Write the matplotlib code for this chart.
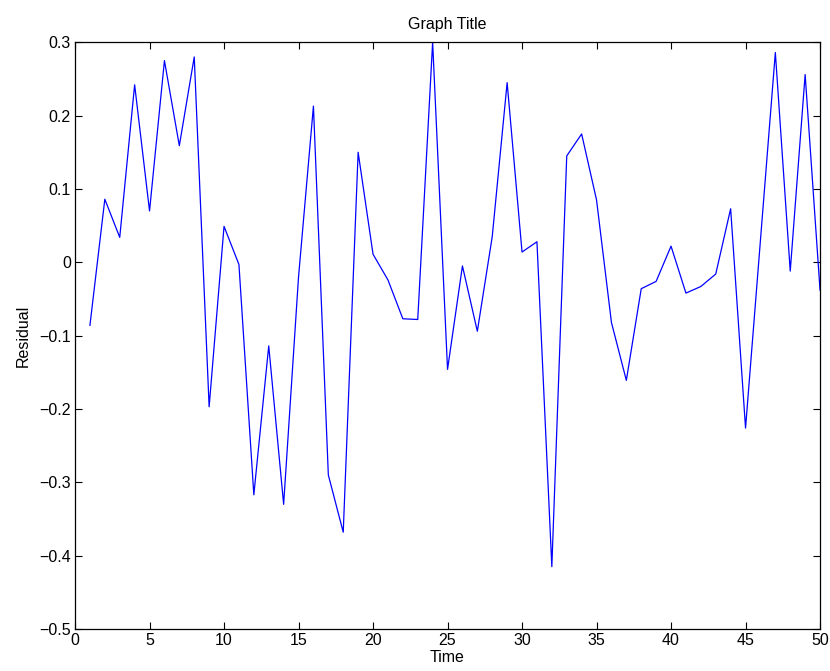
import matplotlib
matplotlib.use("Agg")
import matplotlib.pyplot as plt

plt.rcParams['font.family'] = ['Liberation Sans', 'DejaVu Sans']

time = list(range(1, 51))
residual = [
    -0.086, 0.086, 0.034, 0.242, 0.070, 0.275, 0.159, 0.280, -0.197, 0.049,
    -0.003, -0.317, -0.114, -0.330, -0.020, 0.213, -0.290, -0.368, 0.150, 0.011,
    -0.024, -0.077, -0.078, 0.300, -0.146, -0.005, -0.094, 0.035, 0.245, 0.014,
    0.028, -0.415, 0.145, 0.175, 0.085, -0.082, -0.161, -0.036, -0.026, 0.022,
    -0.042, -0.033, -0.016, 0.073, -0.226, 0.030, 0.286, -0.012, 0.256, -0.038,
]
xticks = [0, 5, 10, 15, 20, 25, 30, 35, 40, 45, 50]
yticks = [-0.5, -0.4, -0.3, -0.2, -0.1, 0, 0.1, 0.2, 0.3]
yticklabels = ['\u22120.5', '\u22120.4', '\u22120.3', '\u22120.2', '\u22120.1', '0', '0.1', '0.2', '0.3']

fig = plt.figure(figsize=(8.30, 6.71), dpi=100)
ax = fig.add_axes([0.0904, 0.0626, 0.8976, 0.8744])
ax.plot(time, residual, color='#0000ff', lw=0.9)
ax.set_xlim(0, 50)
ax.set_ylim(-0.5, 0.3)
ax.set_xticks(xticks)
ax.set_xticklabels([str(t) for t in xticks])
ax.set_yticks(yticks)
ax.set_yticklabels(yticklabels)
ax.tick_params(direction='in', top=True, right=True, length=5.2, width=0.8,
               labelsize=11.5, pad=3)
for s in ax.spines.values():
    s.set_linewidth(0.9)
ax.set_title('Graph Title', fontsize=11.5, pad=9.5)
ax.set_xlabel('Time', fontsize=11.5, labelpad=1)
ax.set_ylabel('Residual', fontsize=11.5, labelpad=6)
fig.savefig('out.png', dpi=100)
